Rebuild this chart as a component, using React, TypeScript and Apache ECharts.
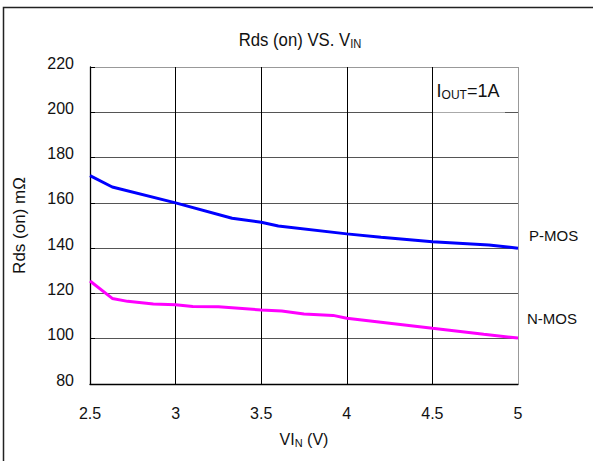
import React, { useEffect, useRef } from "react";
import * as echarts from "echarts";

// ---- data ----
const vinP = [2.5, 2.63, 3.0, 3.33, 3.5, 3.6, 4.0, 4.2, 4.5, 4.83, 5.0];
const rdsP = [172, 167, 160, 153.2, 151.4, 149.8, 146.3, 144.8, 142.8, 141.4, 140];

const vinN = [2.5, 2.63, 2.72, 2.87, 3.0, 3.1, 3.25, 3.5, 3.62, 3.75, 3.92, 4.0, 4.2, 4.5, 4.8, 5.0];
const rdsN = [125.5, 117.8, 116.5, 115.3, 115, 114.2, 114.1, 112.7, 112.2, 110.9, 110.3, 109, 107.3, 104.6, 102, 100.3];

const seriesNames = ["P-MOS", "N-MOS"];
const xTicks = { min: 2.5, max: 5, interval: 0.5 };
const yTicks = { min: 80, max: 220, interval: 20 };

const FONT = "'Liberation Sans Narrow', 'Arial Narrow', 'Liberation Sans', Arial, sans-serif";

export default function App() {
  const ref = useRef<HTMLDivElement>(null);

  useEffect(() => {
    if (!ref.current) return;
    const chart = echarts.init(ref.current, undefined, { renderer: "svg" });

    const pData = vinP.map((v, i) => [v, rdsP[i]]);
    const nData = vinN.map((v, i) => [v, rdsN[i]]);

    const option: any = {
      animation: false,
      backgroundColor: "#ffffff",
      textStyle: { fontFamily: FONT },
      grid: { left: 90, top: 67, right: 75, bottom: 77, containLabel: false },
      xAxis: {
        type: "value",
        min: xTicks.min,
        max: xTicks.max,
        interval: xTicks.interval,
        name: "{a|VI}{s|N}{a| (V)}",
        nameLocation: "middle",
        nameGap: 46,
        nameTextStyle: {
          rich: {
            a: { fontFamily: FONT, fontSize: 16, color: "#111", lineHeight: 18 },
            s: { fontFamily: FONT, fontSize: 11, color: "#111", lineHeight: 18, verticalAlign: "bottom", padding: [6, 0, 0, 0] },
          },
        },
        axisLine: { show: true, lineStyle: { color: "#000", width: 1.3 } },
        axisTick: { show: false },
        axisLabel: { fontFamily: FONT, fontSize: 16, color: "#111", margin: 21 },
        splitLine: {
          show: true,
          lineStyle: { color: ["#000", "#000", "#000", "#000", "#000", "#999"], width: 1 },
        },
      },
      yAxis: {
        type: "value",
        min: yTicks.min,
        max: yTicks.max,
        interval: yTicks.interval,
        name: "Rds (on) mΩ",
        nameLocation: "middle",
        nameGap: 62,
        nameTextStyle: { fontFamily: FONT, fontSize: 17, color: "#111" },
        axisLine: { show: true, lineStyle: { color: "#000", width: 1.3 } },
        axisTick: { show: true, inside: true, length: 5, lineStyle: { color: "#000" } },
        axisLabel: {
          fontFamily: FONT,
          fontSize: 16,
          color: "#111",
          margin: 16,
          verticalAlign: "bottom",
          lineHeight: 8,
        },
        splitLine: {
          show: true,
          lineStyle: {
            color: ["#555", "#555", "#555", "#555", "#555", "#555", "#555", "#999"],
            width: 1,
          },
        },
      },
      series: [
        {
          name: seriesNames[0],
          type: "line",
          data: pData,
          showSymbol: false,
          symbol: "none",
          lineStyle: { color: "#0000ff", width: 3 },
          itemStyle: { color: "#0000ff" },
          z: 5,
          endLabel: {
            show: true,
            formatter: "{a}",
            distance: 11,
            offset: [0, -13],
            fontFamily: FONT,
            fontSize: 15,
            color: "#111",
          },
        },
        {
          name: seriesNames[1],
          type: "line",
          data: nData,
          showSymbol: false,
          symbol: "none",
          lineStyle: { color: "#ff00ff", width: 3 },
          itemStyle: { color: "#ff00ff" },
          z: 5,
          endLabel: {
            show: true,
            formatter: "{a}",
            distance: 9,
            offset: [0, -20],
            fontFamily: FONT,
            fontSize: 15,
            color: "#111",
          },
        },
      ],
      graphic: [
        {
          type: "rect",
          z: 100,
          silent: true,
          shape: { x: 3.5, y: 7.5, width: 700, height: 600 },
          style: { fill: "none", stroke: "#222", lineWidth: 1.5 },
        },
        {
          type: "rect",
          z: 1,
          silent: true,
          shape: { x: 433, y: 72, width: 72, height: 40.5 },
          style: { fill: "#fff", stroke: "none" },
        },
        {
          type: "text",
          z: 2,
          x: 468,
          y: 91,
          style: {
            text: "{a|I}{s|OUT}{a|=1A}",
            align: "center",
            verticalAlign: "middle",
            rich: {
              a: { fontFamily: FONT, fontSize: 18, fill: "#111", lineHeight: 20 },
              s: { fontFamily: FONT, fontSize: 12, fill: "#111", lineHeight: 20, verticalAlign: "bottom", padding: [5, 0, 0, 0] },
            },
          },
        },
        {
          type: "text",
          z: 2,
          x: 300,
          y: 40,
          scaleX: 0.93,
          style: {
            text: "{a|Rds (on) VS. V}{s|IN}",
            align: "center",
            verticalAlign: "middle",
            rich: {
              a: { fontFamily: FONT, fontSize: 18, fill: "#111", lineHeight: 20 },
              s: { fontFamily: FONT, fontSize: 12, fill: "#111", lineHeight: 20, verticalAlign: "bottom", padding: [5, 0, 0, 0] },
            },
          },
        },
      ],
    };

    chart.setOption(option);
    return () => chart.dispose();
  }, []);

  return (
    <div
      ref={ref}
      style={{ position: "fixed", left: 0, top: 0, width: 593, height: 461, background: "#fff" }}
    />
  );
}
